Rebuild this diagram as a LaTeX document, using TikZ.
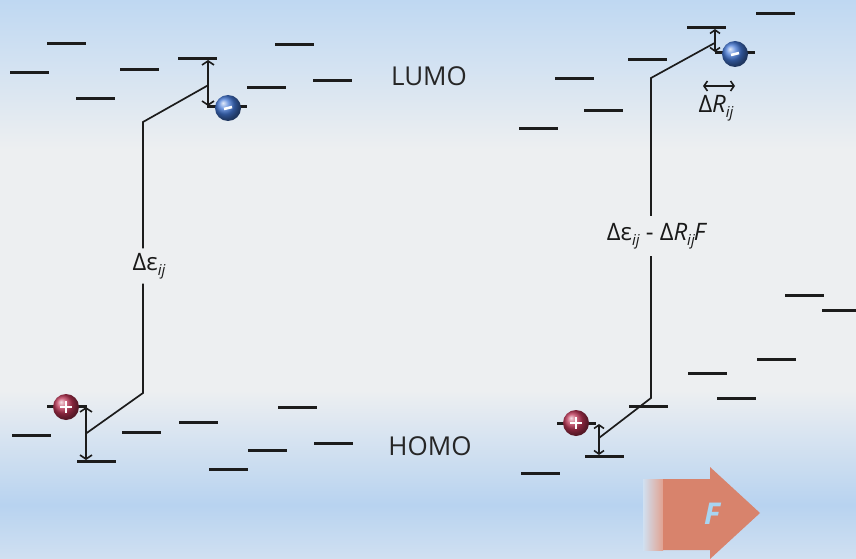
\documentclass[tikz,border=0pt]{standalone}
\usepackage{fontspec}
\setmainfont{Open Sans}
\usetikzlibrary{arrows.meta,calc,shadings}

\definecolor{bgmid}{HTML}{EDEFF1}
\definecolor{bgtop}{HTML}{BFD8F2}
\definecolor{bgblue}{HTML}{B8D3F0}
\definecolor{bglow}{HTML}{D0E0F1}
\definecolor{levelink}{HTML}{1C1C1C}
\definecolor{fieldred}{HTML}{D8836C}
\definecolor{fieldtxt}{HTML}{A8D5F2}
\definecolor{elblue}{HTML}{4478D6}
\definecolor{holered}{HTML}{BE3556}

\newcommand{\sub}[1]{\raisebox{-0.35ex}{\fontsize{15}{15}\selectfont\itshape #1}}

\begin{document}
\begin{tikzpicture}[
  x=1pt,y=-1pt,
  >={Straight Barb[width=12pt,length=4pt]},
  level/.style={draw=levelink,line width=3pt},
  link/.style={draw=levelink,line width=1.7pt},
  gap/.style={<->,draw=levelink,line width=1.6pt},
  carrier/.style={circle,minimum size=26pt,inner sep=0pt},
  sign/.style={white,line width=2.6pt},
  band/.style={font=\fontsize{26}{28}\selectfont,text=black!85},
  energy/.style={font=\fontsize{24}{26}\selectfont,text=black!90,inner sep=1pt}
]
  \useasboundingbox (0,0) rectangle (856,559);

  % background
  \fill[bgmid] (0,0) rectangle (856,559);
  \shade[top color=bgtop,bottom color=bgmid] (0,0) rectangle (856,150);
  \shade[top color=bgmid,bottom color=bgblue] (0,390) rectangle (856,505);
  \shade[top color=bgblue,bottom color=bglow] (0,505) rectangle (856,559);

  % ordinary levels (left end, height)
  \foreach \x/\y in {47/44,10/73,120/70,76/99,275/45,247/88,313/81,
                     12/435,122/432,179/422,278/407,248/450,209/469,314/443,
                     756/14,628/60,555/79,584/111,519/129,
                     785/295,822/310,757/359,688/373,717/398,629/406,521/473}
    \draw[level] (\x,\y) -- ++(39,0);

  % levels taking part in the transition
  \draw[level] (178,59) -- (217,59);
  \draw[level] (207,107) -- (247,107);
  \draw[level] (47,406) -- (87,406);
  \draw[level] (77,461) -- (116,461);
  \draw[level] (687,28) -- (726,28);
  \draw[level] (715,53) -- (755,53);
  \draw[level] (557,423) -- (596,423);
  \draw[level] (585,456) -- (624,456);

  \coordinate (eL-hi) at (208,60);
  \coordinate (eL-lo) at (208,106);
  \coordinate (hL-hi) at (86,407);
  \coordinate (hL-lo) at (86,460);
  \coordinate (eR-hi) at (715,29);
  \coordinate (eR-lo) at (715,52);
  \coordinate (hR-hi) at (599,424);
  \coordinate (hR-lo) at (599,455);

  \coordinate (kL1) at (143,122);
  \coordinate (kL2) at (143,393);
  \coordinate (kR1) at (651,78);
  \coordinate (kR2) at (651,398);

  \draw[gap] (eL-hi) -- (eL-lo);
  \draw[gap] (hL-hi) -- (hL-lo);
  \draw[gap,>={Straight Barb[width=10pt,length=3.5pt]}] (eR-hi) -- (eR-lo);
  \draw[gap,>={Straight Barb[width=10pt,length=3.5pt]}] (hR-hi) -- (hR-lo);

  % energy gaps
  \node[energy,minimum height=35pt] (dL) at (149,266)
    {Δε\sub{ij}};
  \node[energy,minimum height=40pt] (dR) at (657,236)
    {Δε\sub{ij} - Δ\textit{R}\sub{ij}\kern-1pt\textit{F}};

  \draw[link] ($(eL-hi)!.55!(eL-lo)$) -- (kL1) -- (dL.north -| kL1);
  \draw[link] (dL.south -| kL1) -- (kL2) -- ($(hL-hi)!.5!(hL-lo)$);
  \draw[link] ($(eR-hi)!.6!(eR-lo)$) -- (kR1) -- (dR.north -| kR1);
  \draw[link] (dR.south -| kR1) -- (kR2) -- ($(hR-hi)!.45!(hR-lo)$);

  % separation of the pair
  \coordinate (rA) at (703,86);
  \coordinate (rB) at (735,86);
  \draw[gap,>={Straight Barb[width=10pt,length=3.5pt]}] (rA) -- (rB);
  \node[energy] (dRij) at (716,108) {Δ\textit{R}\sub{ij}};

  % electrons and holes
  \node[carrier,ball color=elblue] (elL) at (228,108) {};
  \node[carrier,ball color=elblue] (elR) at (735,54) {};
  \node[carrier,ball color=holered] (hoL) at (66,407) {};
  \node[carrier,ball color=holered] (hoR) at (576,423) {};
  \foreach \c in {elL,elR}
    \draw[sign] ($(\c)+(-4,1)$) -- ($(\c)+(4,-1)$);
  \foreach \c in {hoL,hoR} {
    \draw[sign] ($(\c)+(-6,0)$) -- ($(\c)+(6,0)$);
    \draw[sign] ($(\c)+(0,-6)$) -- ($(\c)+(0,6)$);
  }

  \node[band] (lumo) at (429,76) {LUMO};
  \node[band] (homo) at (430,446) {HOMO};

  % applied field
  \shade[left color=bglow,right color=fieldred!75!white] (643,479) rectangle (663,550);
  \fill[fieldred] (663,479) -- (710,479) -- (710,467) -- (760,513)
    -- (710,559) -- (710,550) -- (663,550) -- cycle;
  \node[font=\bfseries\itshape\fontsize{30}{30}\selectfont,text=fieldtxt] (fld) at (712,514) {F};
\end{tikzpicture}
\end{document}
